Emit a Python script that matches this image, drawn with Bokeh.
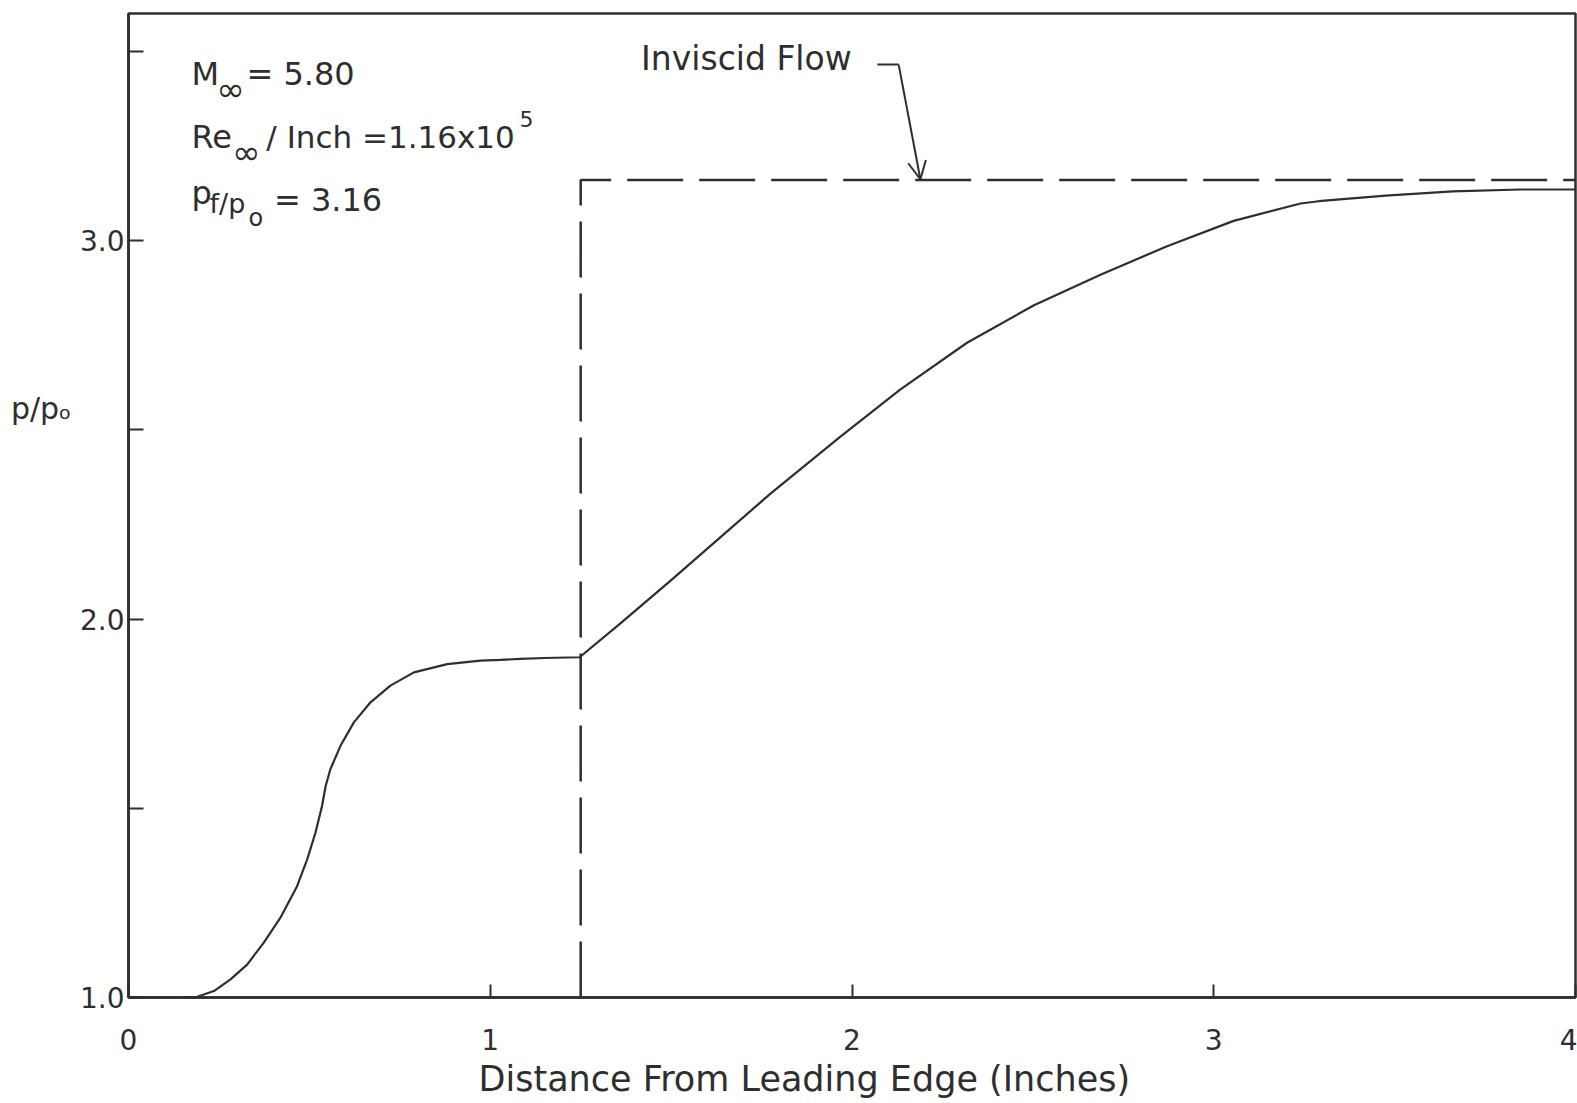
from bokeh.plotting import figure
from bokeh.models import FixedTicker, Label, Arrow, OpenHead, Range1d, Title, LinearAxis
from bokeh.embed import file_html
from bokeh.resources import INLINE

# ---- data ----
distance = [0.0, 0.144, 0.19, 0.236, 0.282, 0.328, 0.374, 0.420, 0.466, 0.494,
            0.517, 0.535, 0.545, 0.558, 0.586, 0.623, 0.669, 0.724, 0.789, 0.881,
            0.973, 1.028, 1.083, 1.15, 1.247, 1.359, 1.497, 1.635, 1.773, 1.968,
            2.134, 2.318, 2.503, 2.687, 2.871, 3.055, 3.240, 3.290, 3.475, 3.661,
            3.847, 4.0]
pressure = [1.0, 1.0, 1.002, 1.017, 1.048, 1.087, 1.145, 1.211, 1.294, 1.365,
            1.436, 1.506, 1.559, 1.603, 1.665, 1.727, 1.780, 1.824, 1.859, 1.881,
            1.890, 1.892, 1.895, 1.897, 1.899, 1.988, 2.100, 2.215, 2.330, 2.482,
            2.607, 2.730, 2.829, 2.910, 2.985, 3.052, 3.098, 3.104, 3.119, 3.130,
            3.135, 3.135]
inviscid_x = [1.25, 1.25, 4.0]
inviscid_y = [1.0, 3.16, 3.16]
x_ticks = [0, 1, 2, 3, 4]
y_ticks = [1.0, 1.5, 2.0, 2.5, 3.0, 3.5]
y_tick_labels = {1.0: "1.0", 1.5: "", 2.0: "2.0", 2.5: "", 3.0: "3.0", 3.5: ""}
y_title_at = 2.555

INK = "#2e2e2e"
FONT = "DejaVu Sans"

p = figure(width=1577, height=1102, x_range=Range1d(0, 4), y_range=Range1d(1.0, 3.6),
           output_backend="svg", toolbar_location=None,
           min_border_left=128, min_border_right=2, min_border_top=13, min_border_bottom=104)
p.grid.visible = False
p.outline_line_color = INK
p.outline_line_width = 2.5
p.background_fill_color = "white"
p.border_fill_color = "white"

for ax in (p.xaxis[0], p.yaxis[0]):
    ax.axis_line_color = INK
    ax.axis_line_width = 2.5
    ax.major_tick_line_color = INK
    ax.major_tick_line_width = 2
    ax.major_tick_out = 0
    ax.minor_tick_line_color = None
    ax.major_label_text_font = FONT
    ax.major_label_text_font_size = "28px"
    ax.major_label_text_color = INK

p.xaxis.ticker = FixedTicker(ticks=x_ticks)
p.xaxis.major_tick_in = 13
p.xaxis.major_label_standoff = 31
p.yaxis.ticker = FixedTicker(ticks=y_ticks)
p.yaxis.major_label_overrides = y_tick_labels
p.yaxis.major_tick_in = 15
p.yaxis.major_label_standoff = 4

# y axis title: an outer, line-less axis whose single tick label is the title
ylab_axis = LinearAxis(ticker=FixedTicker(ticks=[y_title_at]),
                       major_label_overrides={y_title_at: "p/p\u2092"},
                       axis_line_color=None, major_tick_line_color=None,
                       minor_tick_line_color=None, major_tick_out=0, major_tick_in=0,
                       major_label_standoff=5, major_label_text_font=FONT,
                       major_label_text_font_size="30px", major_label_text_color=INK)
p.add_layout(ylab_axis, "left")

# curves
p.line(distance, pressure, line_color=INK, line_width=2.2)
p.line(inviscid_x, inviscid_y, line_color=INK, line_width=2.5, line_dash="56 16")

DY = 0.030

def lab(x, y, t, size=32):
    p.add_layout(Label(x=x, y=y + DY, text=t, text_font=FONT, text_font_size=f"{size}px",
                       text_color=INK, text_baseline="alphabetic", text_align="left"))

# annotation block
lab(0.174, 3.410, "M")
lab(0.243, 3.370, "\u221e", 34)
lab(0.326, 3.410, "= 5.80")
lab(0.174, 3.244, "Re")
lab(0.287, 3.205, "\u221e", 34)
lab(0.381, 3.244, "/ Inch =1.16x10", 31)
lab(1.081, 3.292, "5", 22)
lab(0.174, 3.097, "p")
lab(0.224, 3.069, "f/p", 27)
lab(0.332, 3.030, "o", 24)
lab(0.402, 3.077, "= 3.16")

# Inviscid flow call-out
lab(1.417, 3.452, "Inviscid  Flow", 33)
p.line([2.070, 2.129], [3.465, 3.465], line_color=INK, line_width=2)
p.add_layout(Arrow(end=OpenHead(size=18, line_color=INK, line_width=2),
                   x_start=2.129, y_start=3.465, x_end=2.189, y_end=3.162,
                   line_color=INK, line_width=2))

# x axis title
p.add_layout(Title(text="Distance  From  Leading  Edge  (Inches)", align="left", offset=350,
                   text_font=FONT, text_font_size="35px", text_font_style="normal",
                   text_color=INK, standoff=8), "below")

open("out.html", "w").write(file_html(p, INLINE))
